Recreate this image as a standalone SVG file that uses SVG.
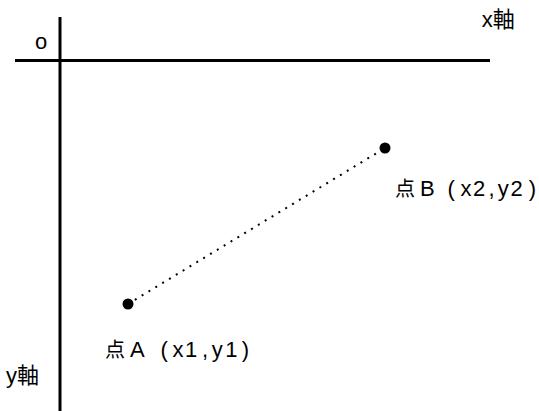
<svg xmlns="http://www.w3.org/2000/svg" width="539" height="411" viewBox="0 0 539 411">
<style>
.t{font-family:"Liberation Sans","Noto Sans CJK JP",sans-serif;font-size:22px;fill:#000}
.cj{font-size:20px}
.ax{stroke:#000;stroke-width:3;fill:none}
.pt{fill:#000}
</style>
<rect width="539" height="411" fill="#fff"/>
<g id="axes">
<line class="ax" x1="60" y1="17" x2="60" y2="411"/>
<line class="ax" x1="15" y1="60.5" x2="490" y2="60.5"/>
</g>
<g id="connectors">
<line x1="128" y1="304" x2="385" y2="148" stroke="#000" stroke-width="2" stroke-dasharray="2 6"/>
</g>
<g id="origin"><text class="t" x="35" y="48.5">o</text></g>
<g id="xaxis-label"><text class="t" x="481.8" y="27">x軸</text></g>
<g id="yaxis-label"><text class="t" x="6" y="383">y軸</text></g>
<g id="pointA">
<circle class="pt" cx="128" cy="304" r="5.5"/>
<text class="t" y="357"><tspan class="cj" x="105">点</tspan><tspan x="130">A</tspan><tspan x="160.4">(</tspan><tspan x="172.5">x</tspan><tspan x="185">1</tspan><tspan x="202">,</tspan><tspan x="211.8">y</tspan><tspan x="225.3">1</tspan><tspan x="241.8">)</tspan></text>
</g>
<g id="pointB">
<circle class="pt" cx="385" cy="148" r="5.5"/>
<text class="t" y="196"><tspan class="cj" x="395">点</tspan><tspan x="420">B</tspan><tspan x="447.5">(</tspan><tspan x="460.5">x</tspan><tspan x="473">2</tspan><tspan x="488.5">,</tspan><tspan x="497.8">y</tspan><tspan x="510.5">2</tspan><tspan x="528.8">)</tspan></text>
</g>
</svg>
